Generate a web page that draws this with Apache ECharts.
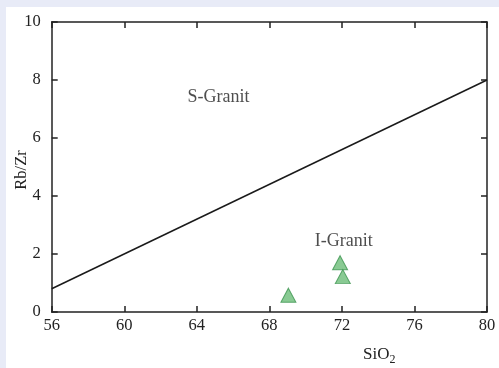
<!DOCTYPE html>
<html>
<head>
<meta charset="utf-8">
<script src="https://cdn.jsdelivr.net/npm/echarts@6/dist/echarts.min.js"></script>
<style>
    html, body { margin: 0; padding: 0; background: #e8ebf7; }
    #chart { position: absolute; left: 6px; top: 7px; width: 493px; height: 361px; background: #fff; }
</style>
</head>
<body>
<div id="chart"></div>
<script>
/* global echarts */
// discrimination line S-/I-granite
const lineSiO2 = [56, 80];
const lineRbZr = [0.8, 8.0];

// samples
const sampleSiO2 = [69.05, 71.9, 72.05];
const sampleRbZr = [0.58, 1.7, 1.22];

// field labels
const fieldNames = ['S-Granit', 'I-Granit'];
const fieldSiO2 = [65.2, 72.1];
const fieldRbZr = [7.4, 2.45];

const FONT = 'Liberation Serif';
const chart = echarts.init(document.getElementById('chart'));

const axisCommon = {
    axisLine: { show: true, onZero: false, lineStyle: { color: '#222', width: 1.5 } },
    axisTick: { show: true, inside: true, length: 6, lineStyle: { color: '#222', width: 1.5 } },
    splitLine: { show: false }
};

const option = {
    animation: false,
    grid: { left: 45.7, right: 12, top: 15, bottom: 56, outerBoundsMode: 'none', containLabel: false },
    xAxis: [
        {
            ...axisCommon,
            type: 'value', min: 56, max: 80, interval: 4,
            axisLabel: { fontFamily: FONT, fontSize: 16.5, color: '#222', margin: 5 },
            name: '{n|SiO}{s|2}',
            nameLocation: 'middle',
            nameGap: 32,
            nameMoveOverlap: false,
            nameTextStyle: {
                padding: [0, 0, 0, 220],
                rich: {
                    n: { fontFamily: FONT, fontSize: 17, color: '#222', lineHeight: 22 },
                    s: { fontFamily: FONT, fontSize: 12, color: '#222', lineHeight: 11, verticalAlign: 'bottom' }
                }
            }
        },
        {
            ...axisCommon,
            type: 'value', position: 'top', min: 56, max: 80, interval: 4,
            axisLabel: { show: false }
        }
    ],
    yAxis: [
        {
            ...axisCommon,
            type: 'value', min: 0, max: 10, interval: 2,
            axisLabel: { fontFamily: FONT, fontSize: 16.5, color: '#222', margin: 11 },
            name: 'Rb/Zr',
            nameLocation: 'middle',
            nameGap: 22,
            nameMoveOverlap: false,
            nameTextStyle: { fontFamily: FONT, fontSize: 16.5, color: '#222', padding: [0, 6, 0, 0] }
        },
        {
            ...axisCommon,
            type: 'value', position: 'right', min: 0, max: 10, interval: 2,
            axisLabel: { show: false }
        }
    ],
    series: [
        {
            type: 'line',
            data: lineSiO2.map((x, i) => [x, lineRbZr[i]]),
            symbol: 'none',
            lineStyle: { color: '#1a1a1a', width: 1.5 }
        },
        {
            type: 'scatter',
            data: sampleSiO2.map((x, i) => [x, sampleRbZr[i]]),
            symbol: 'triangle',
            symbolSize: [15, 14],
            itemStyle: { color: '#6cbd78', borderColor: '#3d9550', borderWidth: 1 }
        },
        {
            type: 'scatter',
            data: fieldSiO2.map((x, i) => ({ value: [x, fieldRbZr[i]], name: fieldNames[i] })),
            symbolSize: 0,
            label: {
                show: true,
                position: 'inside',
                formatter: '{b}',
                fontFamily: FONT,
                fontSize: 18,
                color: '#222'
            }
        }
    ]
};
chart.setOption(option);
</script>
</body>
</html>
